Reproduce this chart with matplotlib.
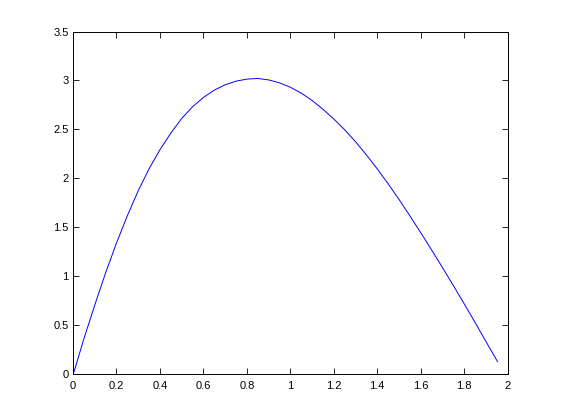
import matplotlib
matplotlib.use("Agg")
import matplotlib.pyplot as plt

# Points
x_vals = [0.005, 0.05, 0.10, 0.15, 0.20, 0.25, 0.30, 0.35, 0.40, 0.45,
          0.50, 0.55, 0.60, 0.65, 0.70, 0.75, 0.80, 0.85, 0.90, 0.95,
          1.00, 1.05, 1.10, 1.15, 1.20, 1.25, 1.30, 1.35, 1.40, 1.45,
          1.50, 1.55, 1.60, 1.65, 1.70, 1.75, 1.80, 1.85, 1.90, 1.953]
y_vals = [0.02, 0.355, 0.70, 1.03, 1.335, 1.615, 1.87, 2.095, 2.29, 2.46,
          2.61, 2.73, 2.825, 2.90, 2.955, 2.992, 3.013, 3.02, 3.005, 2.975,
          2.93, 2.87, 2.795, 2.705, 2.605, 2.495, 2.373, 2.238, 2.095, 1.943,
          1.783, 1.615, 1.443, 1.266, 1.086, 0.902, 0.715, 0.524, 0.33, 0.125]

x_ticks = [0, 0.2, 0.4, 0.6, 0.8, 1, 1.2, 1.4, 1.6, 1.8, 2]
x_tick_labels = ["0", "0.2", "0.4", "0.6", "0.8", "1", "1.2", "1.4", "1.6", "1.8", "2"]
y_ticks = [0, 0.5, 1, 1.5, 2, 2.5, 3, 3.5]
y_tick_labels = ["0", "0.5", "1", "1.5", "2", "2.5", "3", "3.5"]

plt.rcParams['font.family'] = ['Liberation Sans', 'DejaVu Sans']

fig = plt.figure(figsize=(5.61, 4.20), dpi=100)
ax = fig.add_axes([0.13, 0.11, 0.775, 0.815])
ax.plot(x_vals, y_vals, color=(0, 0, 1), linewidth=0.7)

ax.set_xlim(0, 2)
ax.set_ylim(0, 3.5)
ax.set_xticks(x_ticks)
ax.set_xticklabels(x_tick_labels)
ax.set_yticks(y_ticks)
ax.set_yticklabels(y_tick_labels)
ax.tick_params(axis='both', direction='in', top=True, right=True,
               length=4, width=0.6, labelsize=8, colors='black')
ax.tick_params(axis='x', pad=5)
ax.tick_params(axis='y', pad=3)
for s in ax.spines.values():
    s.set_linewidth(0.7)
    s.set_color('black')

fig.savefig("out.png", dpi=100)
